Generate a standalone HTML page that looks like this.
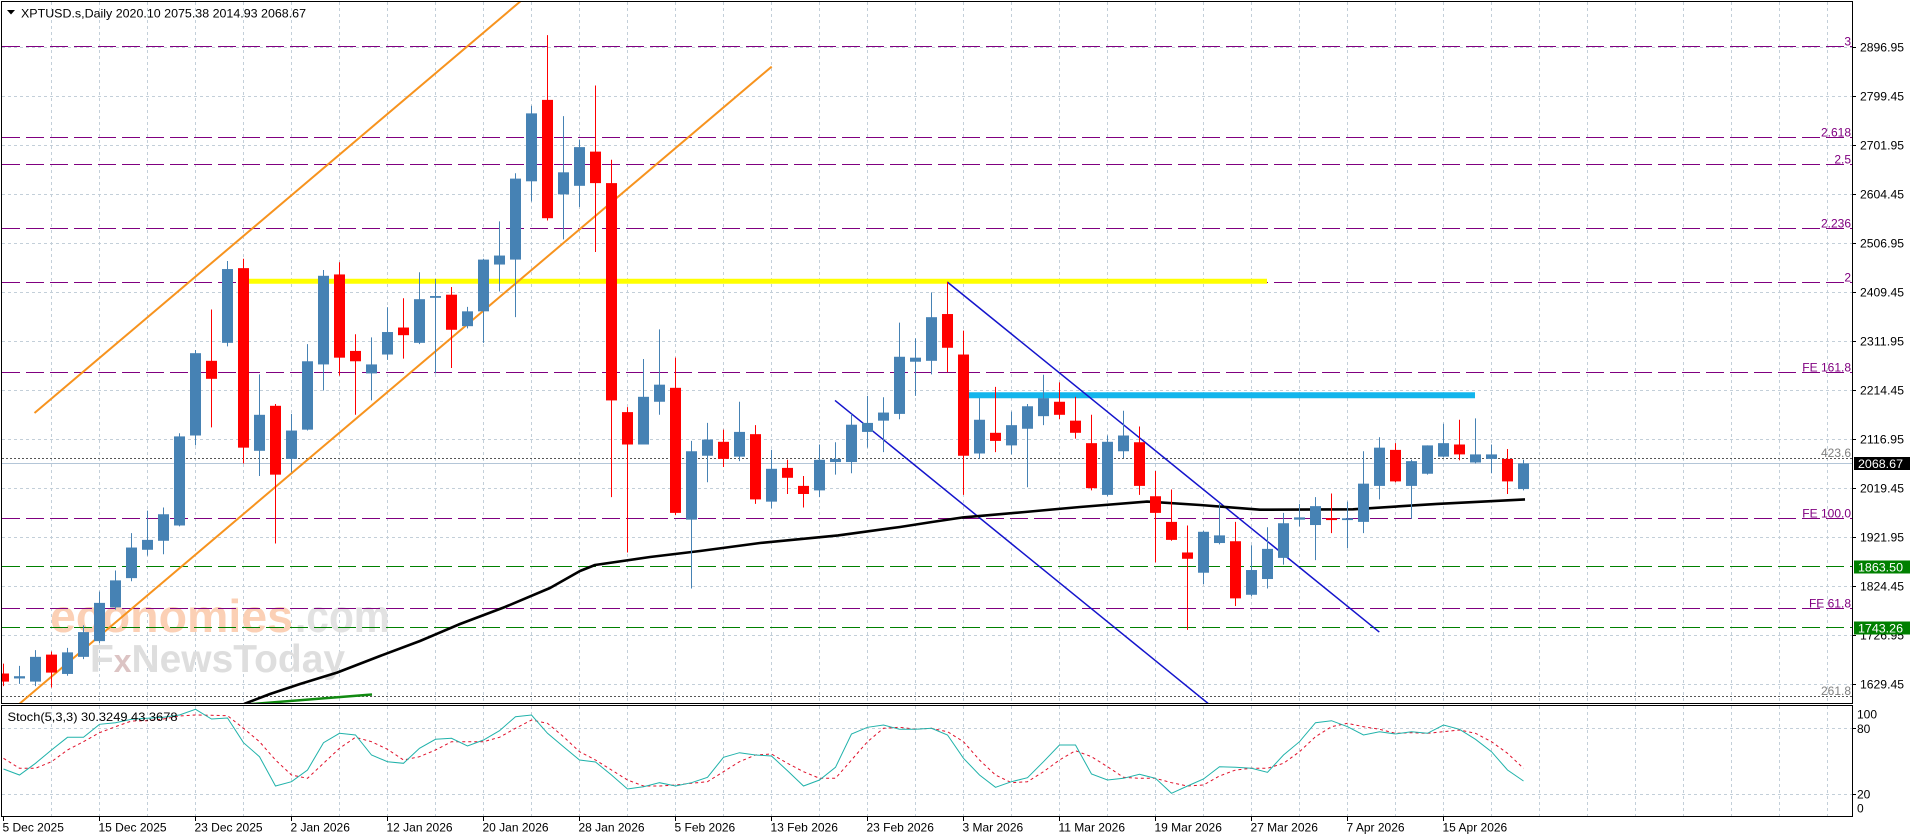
<!DOCTYPE html>
<html><head><meta charset="utf-8">
<style>
html,body{margin:0;padding:0;background:#fff;width:1916px;height:840px;overflow:hidden}
svg{display:block}
text{font-family:"Liberation Sans",Arial,sans-serif;font-size:12px}
</style></head>
<body>
<svg id="s" width="1916" height="840" viewBox="0 0 1916 840" xmlns="http://www.w3.org/2000/svg">
<defs>
<clipPath id="cm"><rect x="2" y="2" width="1850" height="701"/></clipPath>
<clipPath id="cs"><rect x="2" y="706" width="1850" height="110"/></clipPath>
</defs>
<rect x="0" y="0" width="1916" height="840" fill="#fff"/>
<g id="grid"></g>
<g clip-path="url(#cm)">
<text x="50" y="632" style="font-size:46px;font-weight:bold" fill="#fbd0b5" textLength="243" lengthAdjust="spacingAndGlyphs">economies</text>
<text x="295" y="632" style="font-size:46px;font-weight:bold" fill="#e2e2e2" textLength="95" lengthAdjust="spacingAndGlyphs">.com</text>
<text x="90" y="672" style="font-size:39px;font-weight:bold" fill="#dedede" textLength="255" lengthAdjust="spacingAndGlyphs">F<tspan fill="#dcc4c4" style="font-size:32px">x</tspan>NewsToday</text>
</g>
<g id="lines" clip-path="url(#cm)">
<g stroke="#800080" stroke-width="1" stroke-dasharray="18,6" fill="none">
<line x1="2" y1="46.5" x2="1852" y2="46.5"/>
<line x1="2" y1="137.5" x2="1852" y2="137.5"/>
<line x1="2" y1="164.5" x2="1852" y2="164.5"/>
<line x1="2" y1="228.5" x2="1852" y2="228.5"/>
<line x1="2" y1="282.5" x2="1852" y2="282.5"/>
<line x1="2" y1="372.5" x2="1852" y2="372.5"/>
<line x1="2" y1="518.5" x2="1852" y2="518.5"/>
<line x1="2" y1="608.5" x2="1852" y2="608.5"/>
</g>
<g stroke="#008000" stroke-width="1" stroke-dasharray="18,6" fill="none">
<line x1="2" y1="566.5" x2="1852" y2="566.5"/>
<line x1="2" y1="627.5" x2="1852" y2="627.5"/>
</g>
<g stroke="#555" stroke-width="1" stroke-dasharray="2,2" fill="none">
<line x1="2" y1="458.5" x2="1852" y2="458.5"/>
<line x1="2" y1="696.5" x2="1852" y2="696.5"/>
</g>
<line x1="2" y1="463.5" x2="1852" y2="463.5" stroke="#b4c6d8" stroke-width="1"/>
<line x1="248" y1="281.3" x2="1267" y2="281.3" stroke="#ffff00" stroke-width="5"/>
<line x1="969" y1="395.2" x2="1475" y2="395.2" stroke="#13b5ec" stroke-width="6"/>
<line x1="34.5" y1="413" x2="522" y2="0" stroke="#f7931e" stroke-width="2"/>
<line x1="18" y1="705" x2="771.7" y2="66.6" stroke="#f7931e" stroke-width="2"/>
<line x1="947.3" y1="282" x2="1379.3" y2="632.1" stroke="#1414cc" stroke-width="1.5"/>
<line x1="835" y1="400.4" x2="1210" y2="705" stroke="#1414cc" stroke-width="1.5"/>
<line x1="252" y1="704" x2="372" y2="694.5" stroke="#118a11" stroke-width="2.5"/>
<polyline fill="none" stroke="#000" stroke-width="2.6" stroke-linejoin="round" points="244,704 270,694 300,684 330,674.8 337,672.6 380,656 420,641 460,624 505,607 550,588 580,571 595,565 650,557 700,551 760,543 838,535.4 900,527 932,522 963,517.4 1025,512 1080,507 1147,501.6 1200,505 1260,509.7 1353,509.3 1437,503.9 1525,499.4"/>
</g>
<g id="candles" clip-path="url(#cm)"></g>
<g id="stoch" clip-path="url(#cs)"></g>

<g fill="#800080" text-anchor="end">
<text x="1851" y="45.5">3</text>
<text x="1851" y="136.5">2.618</text>
<text x="1851" y="163.5">2.5</text>
<text x="1851" y="227.3">2.236</text>
<text x="1851" y="281.5">2</text>
<text x="1851" y="371.5">FE 161.8</text>
<text x="1851" y="517.5">FE 100.0</text>
<text x="1851" y="607.5">FE 61.8</text>
</g>
<g fill="#808080" text-anchor="end">
<text x="1851" y="456.8">423.6</text>
<text x="1851" y="695">261.8</text>
</g>

<polygon points="7,10 15,10 11,14.5" fill="#000"/>
<text x="21" y="17.5" fill="#000" textLength="285" lengthAdjust="spacingAndGlyphs">XPTUSD.s,Daily  2020.10 2075.38 2014.93 2068.67</text>
<text x="7.5" y="720.8" fill="#000" textLength="170" lengthAdjust="spacingAndGlyphs">Stoch(5,3,3) 30.3249 43.3678</text>

<g fill="none" stroke="#000" stroke-width="1">
<rect x="1.5" y="1.5" width="1851" height="702"/>
<rect x="1.5" y="705.5" width="1851" height="111"/>
</g>
<g id="axis"></g>

<rect x="1854" y="457" width="56" height="13" fill="#000"/>
<text x="1858" y="468" fill="#fff" textLength="45" lengthAdjust="spacingAndGlyphs">2068.67</text>
<rect x="1854" y="560.5" width="56" height="13" fill="#008000"/>
<text x="1858" y="571.5" fill="#fff" textLength="45" lengthAdjust="spacingAndGlyphs">1863.50</text>
<rect x="1854" y="621.5" width="56" height="13" fill="#008000"/>
<text x="1858" y="632.5" fill="#fff" textLength="45" lengthAdjust="spacingAndGlyphs">1743.26</text>
</svg>
<script>
(function(){
var NS="http://www.w3.org/2000/svg";
function el(tag,a,p){var e=document.createElementNS(NS,tag);for(var k in a)e.setAttribute(k,a[k]);p.appendChild(e);return e;}
var G=document.getElementById('grid'),CA=document.getElementById('candles'),ST=document.getElementById('stoch'),AX=document.getElementById('axis');
var gc="#c3cfd9";
for(var k=0;k<38;k++){var x=51.5+48*k;
 el('line',{x1:x,y1:2,x2:x,y2:703,stroke:gc,'stroke-width':1,'stroke-dasharray':'3,3'},G);
 el('line',{x1:x,y1:706,x2:x,y2:816,stroke:gc,'stroke-width':1,'stroke-dasharray':'3,3'},G);}
var P=[["2896.95",47],["2799.45",96],["2701.95",145],["2604.45",194],["2506.95",243],["2409.45",292],["2311.95",341],["2214.45",390],["2116.95",439],["2019.45",488],["1921.95",537],["1824.45",586],["1726.95",635],["1629.45",684]];
P.forEach(function(p){var y=p[1]+0.5;
 el('line',{x1:2,y1:y,x2:1852,y2:y,stroke:gc,'stroke-width':1,'stroke-dasharray':'3,3'},G);
 el('line',{x1:1852,y1:y,x2:1856,y2:y,stroke:'#000','stroke-width':1},AX);
 var t=el('text',{x:1860,y:p[1]+4.5,fill:'#000',textLength:44,lengthAdjust:'spacingAndGlyphs'},AX);t.textContent=p[0];});
[728.5,794.5].forEach(function(y){el('line',{x1:2,y1:y,x2:1852,y2:y,stroke:gc,'stroke-width':1,'stroke-dasharray':'3,3'},G);
 el('line',{x1:1852,y1:y,x2:1856,y2:y,stroke:'#000','stroke-width':1},AX);});
[["100",718.5],["80",732.8],["20",798.5],["0",812.5]].forEach(function(p){var t=el('text',{x:1857,y:p[1],fill:'#000'},AX);t.textContent=p[0];});
var D=["5 Dec 2025","15 Dec 2025","23 Dec 2025","2 Jan 2026","12 Jan 2026","20 Jan 2026","28 Jan 2026","5 Feb 2026","13 Feb 2026","23 Feb 2026","3 Mar 2026","11 Mar 2026","19 Mar 2026","27 Mar 2026","7 Apr 2026","15 Apr 2026"];
D.forEach(function(d,k){var x=3.5+96*k;
 el('line',{x1:x,y1:817,x2:x,y2:821,stroke:'#000','stroke-width':1},AX);
 var t=el('text',{x:x-1,y:831.5,fill:'#000'},AX);t.textContent=d;});
var C=[[0,1475,1497,1515,1525],[1,1480,1503,1508,1520],[1,1445,1460,1515,1525],[0,1448,1455,1495,1528],[1,1440,1450,1498,1502],[1,1390,1405,1460,1465],[1,1315,1340,1425,1430],[1,1268,1290,1350,1355],[1,1185,1217,1285,1292],[1,1135,1200,1222,1235],[1,1128,1143,1202,1232],[1,963,970,1168,1170],[1,778,785,968,990],[0,688,802,842,950],[1,580,598,762,770],[0,575,596,995,1030],[1,832,922,1002,1058],[0,898,902,1055,1208],[1,920,957,1020,1050],[1,765,803,955,957],[1,600,613,810,868],[0,583,610,795,835],[0,743,780,803,922],[1,750,810,830,890],[1,683,738,788,800],[0,663,728,745,797],[1,605,665,762,765],[1,620,658,662,830],[0,638,655,733,818],[1,682,692,725,730],[1,575,577,692,762],[1,492,568,588,648],[1,385,397,577,705],
[1,235,252,403,448],[0,78,222,485,490],[1,258,383,432,532],[1,310,327,413,460],[0,190,337,407,560],[0,355,407,890,1105],[0,905,916,988,1228],[1,798,882,988,988],[1,732,855,893,922],[0,795,862,1140,1145],[1,980,1003,1155,1308],[1,940,977,1013,1072],[0,955,982,1020,1038],[1,893,960,1015,1025],[0,945,965,1110,1120],[1,1000,1042,1115,1130],[0,1022,1040,1062,1098],[0,1058,1080,1098,1128],[1,988,1022,1090,1105],[1,983,1020,1027,1055],[1,920,944,1027,1052],[1,880,940,960,995],[1,883,917,935,1005],[1,717,793,920,932],[1,752,795,804,880],[1,650,705,802,832],[0,627,698,773,827],[0,735,788,1013,1100],[1,885,933,1008,1020],[0,860,962,980,1005],[1,915,945,990,1010],
[1,898,903,953,1083],[1,833,885,925,945],[0,850,893,922,932],[0,882,935,962,975],[0,922,985,1085,1090],[1,968,982,1100,1103],[1,913,968,1003,1018],[0,948,983,1080,1100],[0,1047,1103,1140,1250],[0,1088,1160,1200,1202],[0,1168,1228,1242,1400],[1,1180,1182,1273,1298],[1,1118,1190,1207,1210],[0,1160,1203,1330,1347],[1,1212,1267,1322,1325],[1,1172,1220,1287,1308],[1,1140,1163,1240,1255],[1,1120,1150,1155,1170],[1,1105,1125,1167,1245],[0,1097,1152,1156,1185],[1,1115,1152,1156,1218],[1,1003,1075,1160,1185],[1,972,995,1080,1110],[0,985,1000,1070,1072],[1,1022,1025,1080,1153],[1,990,990,1053,1055],[1,942,985,1015,1017],[0,933,988,1010,1023],[1,930,1010,1028,1030],[1,988,1010,1020,1052],[0,998,1020,1070,1098],[1,1022,1030,1087,1090]];
var s=2.2227;
C.forEach(function(c,j){var i=j-1,cx=19.5+16*i,col=c[0]?'#4682b4':'#ff0000';
 var h=c[1]/s,t=c[2]/s,b=c[3]/s,l=c[4]/s;
 el('line',{x1:cx,y1:h,x2:cx,y2:l,stroke:col,'stroke-width':1},CA);
 el('rect',{x:cx-5.5,y:t,width:11,height:Math.max(1.2,b-t),fill:col},CA);});
var M=[207,225,190,150,112,112,73,68,58,55,52,45,28,57,54,128,170,258,245,210,128,100,105,165,185,190,145,118,115,138,120,92,50,45,100,140,180,186,225,267,260,248,258,248,232,172,158,165,168,
212,258,240,202,102,82,75,88,88,85,105,175,225,262,245,233,185,135,135,222,240,235,223,235,280,258,237,200,202,205,217,165,125,68,62,80,105,95,102,95,100,75,88,118,155,210,243];
var S=[175,205,205,185,150,125,98,80,63,62,57,48,45,46,47,85,125,180,225,235,190,145,112,125,148,180,170,150,125,125,125,112,85,60,70,110,155,180,210,240,258,258,255,250,245,215,185,165,162,
190,215,235,235,180,125,85,82,88,85,95,125,180,225,248,245,215,180,152,170,200,232,235,235,248,258,255,228,210,205,205,190,155,110,80,70,80,88,100,98,100,95,90,100,125,160,205];
function pts(a){return a.map(function(v,j){return (19.5+16*(j-1)).toFixed(1)+','+(700+v/3).toFixed(1);}).join(' ');}
el('polyline',{points:pts(S),fill:'none',stroke:'#e0102a','stroke-width':1,'stroke-dasharray':'3,3'},ST);
el('polyline',{points:pts(M),fill:'none',stroke:'#20b2aa','stroke-width':1},ST);
})();
</script>
</body></html>
